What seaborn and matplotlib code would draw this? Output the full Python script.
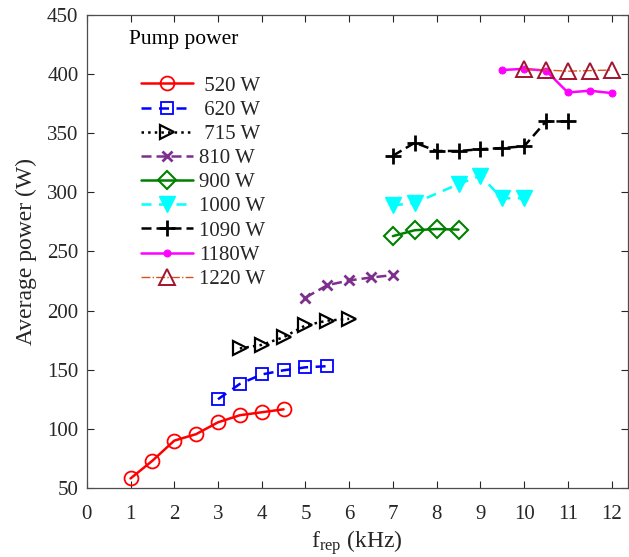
import matplotlib
matplotlib.use("Agg")
import matplotlib.pyplot as plt
import seaborn as sns
import pandas as pd

sns.set_theme(style="white")
plt.rcParams['font.family'] = ['Liberation Serif', 'DejaVu Serif']
plt.rcParams['mathtext.fontset'] = 'custom'
plt.rcParams['mathtext.rm'] = 'Liberation Serif'
plt.rcParams['mathtext.it'] = 'Liberation Serif:italic'

# ---- data ----
x_520 = [1, 1.5, 2, 2.5, 3, 3.5, 4, 4.5]
y_520 = [58, 73, 90, 95.5, 105.5, 111.5, 114, 116.5]
x_620 = [3, 3.5, 4, 4.5, 5, 5.5]
y_620 = [125, 138, 146, 149.5, 152, 153]
x_715 = [3.5, 4, 4.5, 5, 5.5, 6]
y_715 = [168, 171, 177.5, 187.5, 191.5, 193]
x_810 = [5, 5.5, 6, 6.5, 7]
y_810 = [211, 221.5, 225.5, 228, 230]
x_900 = [7, 7.5, 8, 8.5]
y_900 = [263, 268, 269, 268.5]
x_1000 = [7, 7.5, 8.5, 9, 9.5, 10]
y_1000 = [289, 291, 307, 314, 295, 295]
x_1090 = [7, 7.5, 8, 8.5, 9, 9.5, 10, 10.5, 11]
y_1090 = [331, 342, 335, 335, 336.5, 337.5, 339, 360, 360]
x_1180 = [9.5, 10, 10.5, 11, 11.5, 12]
y_1180 = [403.5, 404.5, 403, 384.5, 386, 384]
x_1220 = [10, 10.5, 11, 11.5, 12]
y_1220 = [404, 403.5, 402.5, 403, 403.5]

labels = [" 520 W", " 620 W", " 715 W", "810 W", "900 W", "1000 W", "1090 W", "1180W", "1220 W"]
xs = [x_520, x_620, x_715, x_810, x_900, x_1000, x_1090, x_1180, x_1220]
ys = [y_520, y_620, y_715, y_810, y_900, y_1000, y_1090, y_1180, y_1220]

styles = [
    dict(color='red', linestyle='-', marker='o', markersize=10, markerfacecolor='none', markeredgecolor='red', markeredgewidth=1.3),
    dict(color='blue', linestyle=(0, (4, 3)), marker='s', markersize=8, markerfacecolor='none', markeredgecolor='blue', markeredgewidth=1.3),
    dict(color='black', linestyle=':', marker='>', markersize=10, markerfacecolor='none', markeredgecolor='black', markeredgewidth=1.6),
    dict(color='#7E2F8E', linestyle=(0, (4, 2)), marker='x', markersize=7, markeredgecolor='#7E2F8E', markeredgewidth=2),
    dict(color='green', linestyle='-', marker='D', markersize=9, markerfacecolor='none', markeredgecolor='green', markeredgewidth=1.5),
    dict(color='cyan', linestyle=(0, (4, 3)), marker='v', markersize=12, markerfacecolor='cyan', markeredgecolor='cyan', markeredgewidth=1),
    dict(color='black', linestyle=(0, (4, 2)), marker='+', markersize=12, markeredgecolor='black', markeredgewidth=2),
    dict(color='magenta', linestyle='-', marker='o', markersize=5, markerfacecolor='magenta', markeredgecolor='magenta'),
    dict(color='#D95319', linestyle='-.', marker='^', markersize=12, markerfacecolor='none', markeredgecolor='#A2142F', markeredgewidth=1.4, linewidth=1.0),
]

fig = plt.figure(figsize=(6.29, 5.57), dpi=100)
ax = fig.add_axes([0.138, 0.124, 0.86, 0.849])

for lab, x, y, st in zip(labels, xs, ys, styles):
    df = pd.DataFrame({"f": x, "P": y})
    kw = dict(st)
    lw = kw.pop('linewidth', 1.8)
    sns.lineplot(data=df, x="f", y="P", ax=ax, label=lab, linewidth=lw, **kw)

ax.set_xlim(0, 12.37)
ax.set_ylim(50, 450)
ax.set_xticks(range(0, 13))
ax.set_yticks(range(50, 451, 50))
ax.tick_params(direction='in', length=5, width=0.8, labelsize=15, colors='#262626',
               top=True, right=True, bottom=True, left=True, pad=6)
ax.tick_params(axis='x', pad=12.5)
for sp in ax.spines.values():
    sp.set_visible(True)
    sp.set_color('#4d4d4d')
    sp.set_linewidth(0.9)

ax.set_xlabel(r"f$_{\mathrm{rep}}$ (kHz)", fontsize=17, color='#262626', labelpad=2.5)
ax.set_ylabel("Average power (W)", fontsize=17, color='#262626', labelpad=7)

ax.text(0.0776, 0.949, "Pump power", transform=ax.transAxes, fontsize=15.5, va='center', ha='left', color='black')
leg = ax.legend(loc='upper left', bbox_to_anchor=(0.0998, 0.871), frameon=False, fontsize=15,
                handlelength=2.5, labelspacing=0.22, handletextpad=0.3, borderaxespad=0, borderpad=0)

fig.savefig("out.png", dpi=100)
